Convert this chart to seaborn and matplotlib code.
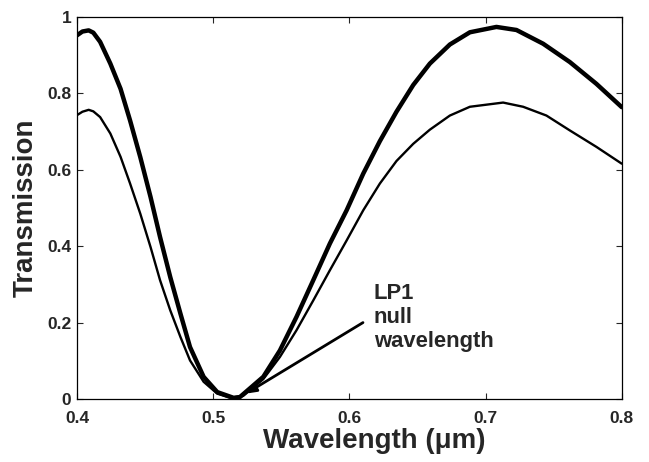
import matplotlib
matplotlib.use("Agg")

import matplotlib.pyplot as plt
import pandas as pd
import seaborn as sns

# values (wavelength in um, transmission)
wl_thick = [0.400, 0.404, 0.4086, 0.412, 0.417, 0.4245, 0.432, 0.439, 0.4465, 0.454,
            0.461, 0.4685, 0.476, 0.483, 0.493, 0.503, 0.515, 0.5196, 0.5368, 0.549,
            0.5612, 0.5735, 0.5857, 0.598, 0.6102, 0.6224, 0.6346, 0.6469, 0.6591,
            0.6738, 0.6885, 0.708, 0.7227, 0.7423, 0.7619, 0.7814, 0.800]
tr_thick = [0.952, 0.962, 0.965, 0.959, 0.935, 0.878, 0.812, 0.729, 0.633, 0.529,
            0.424, 0.319, 0.223, 0.136, 0.058, 0.018, 0.003, 0.005, 0.058, 0.127,
            0.215, 0.311, 0.407, 0.494, 0.590, 0.675, 0.752, 0.822, 0.878,
            0.928, 0.960, 0.974, 0.966, 0.930, 0.882, 0.825, 0.764]

wl_thin = [0.400, 0.404, 0.4086, 0.412, 0.417, 0.4245, 0.432, 0.439, 0.4465, 0.454,
           0.461, 0.4685, 0.476, 0.483, 0.493, 0.503, 0.5125, 0.522, 0.5368, 0.549,
           0.5612, 0.5735, 0.5857, 0.598, 0.6102, 0.6224, 0.6346, 0.6469, 0.6591,
           0.6738, 0.6885, 0.7129, 0.7276, 0.7447, 0.7619, 0.7814, 0.800]
tr_thin = [0.743, 0.752, 0.757, 0.753, 0.738, 0.695, 0.634, 0.564, 0.485, 0.398,
           0.311, 0.232, 0.162, 0.101, 0.045, 0.014, 0.003, 0.008, 0.052, 0.110,
           0.180, 0.258, 0.337, 0.415, 0.494, 0.564, 0.623, 0.668, 0.705,
           0.742, 0.765, 0.776, 0.765, 0.742, 0.703, 0.660, 0.616]

x_ticks = [0.4, 0.5, 0.6, 0.7, 0.8]
y_ticks = [0, 0.2, 0.4, 0.6, 0.8, 1]
y_labels = ["0", "0.2", "0.4", "0.6", "0.8", "1"]

sns.set_style("ticks")
plt.rcParams["font.family"] = ["Liberation Sans", "DejaVu Sans"]
plt.rcParams["font.weight"] = "bold"

fig = plt.figure(figsize=(6.49, 4.62), dpi=100)
ax = fig.add_axes([0.1186, 0.1364, 0.8394, 0.8268])

df_thick = pd.DataFrame({"wl": wl_thick, "tr": tr_thick})
df_thin = pd.DataFrame({"wl": wl_thin, "tr": tr_thin})
sns.lineplot(data=df_thick, x="wl", y="tr", color="black", linewidth=3.2,
             sort=False, ax=ax)
sns.lineplot(data=df_thin, x="wl", y="tr", color="black", linewidth=1.7,
             sort=False, ax=ax)

ax.set_xlim(0.4, 0.8)
ax.set_ylim(0, 1)
ax.set_xticks(x_ticks)
ax.set_xticklabels([f"{v:.1f}" for v in x_ticks])
ax.set_yticks(y_ticks)
ax.set_yticklabels(y_labels)
ax.tick_params(direction="in", length=4, width=0.8, labelsize=12.5,
               top=True, right=True)
ax.tick_params(axis="x", pad=9)
ax.tick_params(axis="y", pad=4)
for lab in ax.get_xticklabels() + ax.get_yticklabels():
    lab.set_fontweight("bold")
for sp in ax.spines.values():
    sp.set_visible(True)
    sp.set_linewidth(0.9)
    sp.set_color("black")

ax.set_xlabel("Wavelength (\u03bcm)", fontsize=20, fontweight="bold")
ax.xaxis.set_label_coords(0.545, -0.075)
ax.set_ylabel("Transmission", fontsize=20, fontweight="bold", labelpad=6)

ax.annotate("", xy=(0.524, 0.014), xytext=(0.610, 0.200),
            arrowprops=dict(arrowstyle="-|>,head_length=0.6,head_width=0.25",
                            color="black", lw=2, shrinkA=0, shrinkB=0))
ax.text(0.618, 0.303, "LP1\nnull\nwavelength", fontsize=15.8, fontweight="bold",
        va="top", ha="left", linespacing=1.17)

fig.savefig("out.png", dpi=100)
plt.close(fig)
